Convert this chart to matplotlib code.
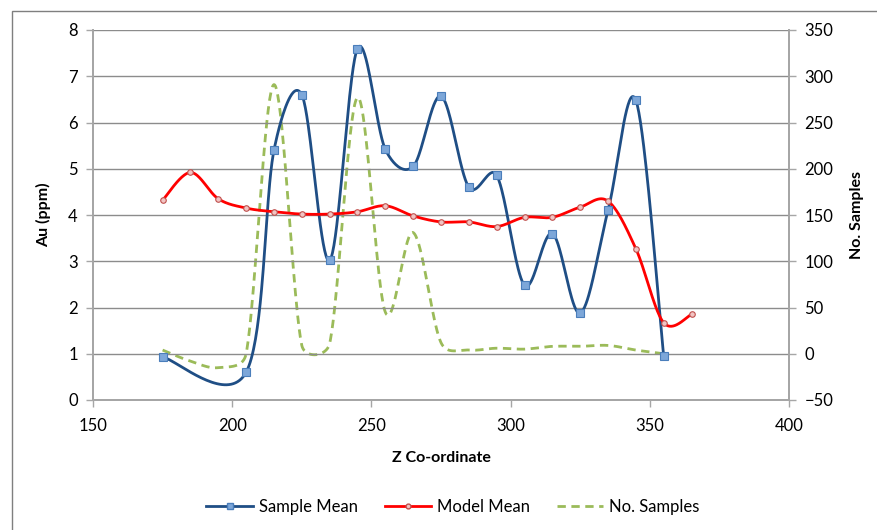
import numpy as np
import matplotlib
matplotlib.use("Agg")
import matplotlib.pyplot as plt
from matplotlib.lines import Line2D
from matplotlib.patches import Rectangle

plt.rcParams['font.family'] = ['Lato', 'DejaVu Sans']

# Sample means (Au ppm) by Z co-ordinate
sample_z = [175, 205, 215, 225, 235, 245, 255, 265, 275, 285, 295, 305, 315, 325, 335, 345, 355]
sample_mean = [0.93, 0.60, 5.40, 6.60, 3.02, 7.60, 5.42, 5.05, 6.57, 4.60, 4.86, 2.48, 3.60, 1.88, 4.10, 6.48, 0.95]

# Block model means (Au ppm) by Z co-ordinate
model_z = [175, 185, 195, 205, 215, 225, 235, 245, 255, 265, 275, 285, 295, 305, 315, 325, 335, 345, 355, 365]
model_mean = [4.32, 4.92, 4.35, 4.15, 4.07, 4.02, 4.02, 4.07, 4.20, 3.98, 3.85, 3.85, 3.75, 3.95, 3.95, 4.17, 4.30, 3.27, 1.67, 1.85]

# Number of samples per Z slice
count_z = [175, 185, 195, 205, 215, 225, 235, 245, 255, 265, 275, 285, 295, 305, 315, 325, 335, 345, 355]
n_samples = [4, -8, -15, 0, 291, 9, 11, 277, 45, 131, 12, 4, 6, 5, 8, 8, 9, 4, 0]

# Plot-area scale (pixels per data unit) used to shape the smoothed curves
PX_X = 2.788
PX_LEFT = 46.25
PX_RIGHT = 0.925


def smooth(xs, ys, sy, sx=PX_X, steps=40, limit=0.5):
    """Bezier smoothing through every point; tangent arms are capped
    relative to the length of the segment they belong to."""
    x = np.asarray(xs, float) * sx
    y = np.asarray(ys, float) * sy
    P = np.column_stack([x, y])
    P = np.vstack([P[0], P, P[-1]])
    t = np.linspace(0, 1, steps)[:, None]
    out = []
    for i in range(1, len(P) - 2):
        p0, p1, p2, p3 = P[i - 1], P[i], P[i + 1], P[i + 2]
        d12 = np.hypot(*(p2 - p1))
        a1 = (p2 - p0) / 6.0
        a2 = (p3 - p1) / 6.0
        for a in (a1, a2):
            n = np.hypot(*a)
            if n > limit * d12 and n > 0:
                a *= limit * d12 / n
        b1 = p1 + a1
        b2 = p2 - a2
        pts = (1 - t) ** 3 * p1 + 3 * (1 - t) ** 2 * t * b1 + 3 * (1 - t) * t ** 2 * b2 + t ** 3 * p2
        out.append(pts)
    out = np.vstack(out)
    return out[:, 0] / sx, out[:, 1] / sy


fig = plt.figure(figsize=(8.78, 5.30), dpi=100)
W, H = 878, 530
ax = fig.add_axes([93 / W, 1 - 400 / H, (789 - 93) / W, (400 - 30) / H])
ax2 = ax.twinx()

axis_col = '#A6A6A6'
grid_col = '#8C8C8C'
blue_line = '#1F4E85'
blue_mark = '#7DA7D9'
blue_edge = '#4A7EBB'
red_line = '#FF0000'
red_mark = '#F2C4C3'
red_edge = '#C0504D'
green = '#9BBB59'
dash = (0, (3.0, 2.0))

gx, gy = smooth(count_z, n_samples, PX_RIGHT)
ax2.plot(gx, gy, color=green, lw=2.0, ls=dash)

sx, sy = smooth(sample_z, sample_mean, PX_LEFT)
ax.plot(sx, sy, color=blue_line, lw=2.0, zorder=3)
ax.plot(sample_z, sample_mean, ls='none', marker='s', ms=5.5,
        mfc=blue_mark, mec=blue_edge, mew=0.8, zorder=4)

mx, my = smooth(model_z, model_mean, PX_LEFT)
ax.plot(mx, my, color=red_line, lw=2.0, zorder=3)
ax.plot(model_z, model_mean, ls='none', marker='o', ms=4,
        mfc=red_mark, mec=red_edge, mew=0.8, zorder=4)

ax.set_zorder(ax2.get_zorder() + 1)
ax.patch.set_visible(False)

ax.set_xlim(150, 400)
ax.set_ylim(0, 8)
ax2.set_ylim(-50, 350)
ax.set_xticks(np.arange(150, 401, 50))
ax.set_yticks(np.arange(0, 9, 1))
ax2.set_yticks(np.arange(-50, 351, 50))

ax.grid(axis='y', color=grid_col, lw=1.0)
ax.set_axisbelow(True)

for a in (ax, ax2):
    for s in a.spines.values():
        s.set_color(axis_col)
        s.set_linewidth(1.3)
    a.spines['top'].set_visible(False)
    a.tick_params(colors=axis_col, labelcolor='black', labelsize=12,
                  direction='out', length=5, width=1.0)
ax.tick_params(axis='x', pad=8)
ax.tick_params(axis='y', pad=6)
ax2.tick_params(axis='y', pad=6)

ax.set_xlabel('Z Co-ordinate', fontsize=11.5, fontweight='bold', labelpad=12)
ax.set_ylabel('Au (ppm)', fontsize=11.5, fontweight='bold', labelpad=12)
ax2.set_ylabel('No. Samples', fontsize=11.5, fontweight='bold', labelpad=12)

handles = [
    Line2D([], [], color=blue_line, lw=2, marker='s', ms=5, mfc=blue_mark, mec=blue_edge),
    Line2D([], [], color=red_line, lw=2, marker='o', ms=3.5, mfc=red_mark, mec=red_edge),
    Line2D([], [], color=green, lw=2, ls=dash),
]
fig.legend(handles, ['Sample Mean', 'Model Mean', 'No. Samples'],
           loc='center', bbox_to_anchor=(453 / W, 1 - 507 / H), ncol=3,
           frameon=False, fontsize=12, handlelength=2.8, columnspacing=1.6,
           handletextpad=0.35)

# Chart outer frame
fig.patches.append(Rectangle((12 / W, -0.1), 1.2, 1 - 11 / H + 0.1,
                             transform=fig.transFigure, fill=False,
                             edgecolor='#7F7F7F', lw=1.0))

fig.savefig('out.png', dpi=100)
